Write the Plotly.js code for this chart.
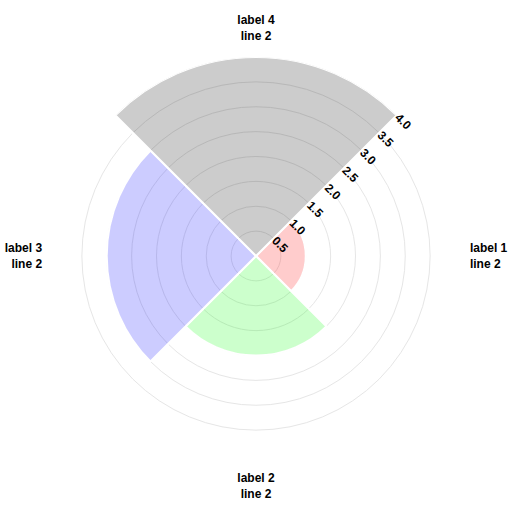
<!DOCTYPE html>
<html>
<head>
<meta charset="utf-8">
<script src="https://cdn.plot.ly/plotly-3.0.1.min.js"></script>
<style>
  html, body { margin: 0; padding: 0; background: #fff; }
  #graph { width: 512px; height: 512px; }
</style>
</head>
<body>
<div id="graph"></div>
<script>
// categories and bar lengths
var labels = ['label 1<br>line 2', 'label 2<br>line 2', 'label 3<br>line 2', 'label 4<br>line 2'];
var values = [1.0, 2.0, 3.0, 4.0];
var colors = ['rgba(255,0,0,0.2)', 'rgba(0,255,0,0.2)', 'rgba(0,0,255,0.2)', 'rgba(0,0,0,0.2)'];
var radialTicks = [0.5, 1.0, 1.5, 2.0, 2.5, 3.0, 3.5, 4.0];

var trace1 = {
  type: 'barpolar',
  r: values,
  theta: labels,
  marker: {
    color: colors,
    line: { color: '#ffffff', width: 2 }
  },
  hoverinfo: 'none'
};

var layout = {
  width: 512,
  height: 512,
  showlegend: false,
  margin: { l: 57, r: 57, t: 57, b: 57 },
  paper_bgcolor: '#ffffff',
  font: { family: 'Arial, "Liberation Sans", sans-serif', size: 12, color: '#000', weight: 'bold' },
  polar: {
    bgcolor: '#ffffff',
    bargap: 0,
    radialaxis: {
      range: [0, 4],
      angle: 45,
      tickangle: 90,
      tickvals: radialTicks,
      tickformat: '.1f',
      showline: false,
      ticks: '',
      gridcolor: '#e6e6e6',
      tickfont: { size: 12, color: '#000' }
    },
    angularaxis: {
      type: 'category',
      direction: 'clockwise',
      rotation: 0,
      showgrid: false,
      showline: false,
      ticks: 'outside',
      ticklen: 12,
      tickcolor: 'rgba(0,0,0,0)',
      tickfont: { size: 12, color: '#000' }
    }
  }
};

Plotly.newPlot('graph', [trace1], layout, { staticPlot: true });
</script>
</body>
</html>
